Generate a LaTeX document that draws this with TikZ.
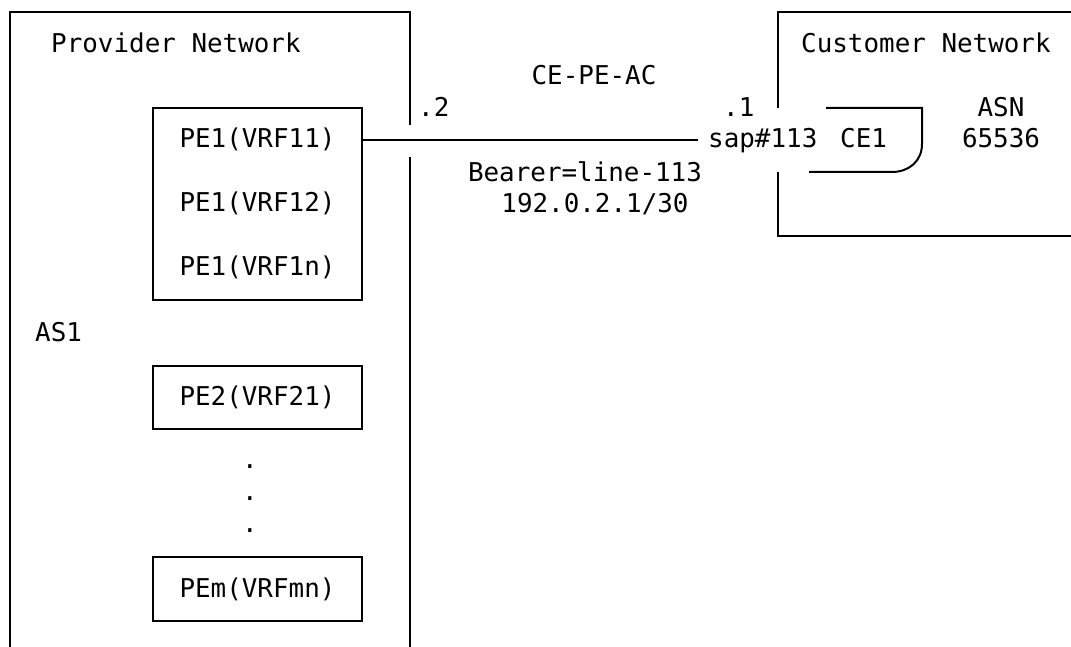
\documentclass[tikz,border=0pt]{standalone}
\usepackage{fontspec}
\setmonofont{DejaVu Sans Mono}
\usetikzlibrary{positioning}
\tikzstyle{every node}=[font=\ttfamily\fontsize{25.9}{31}\selectfont,inner sep=0pt]
\tikzstyle{wire}=[line width=2pt]
\tikzstyle{pebox}=[draw,line width=2pt,minimum width=209pt]

\begin{document}
\begin{tikzpicture}[x=1pt,y=-1pt,node distance=64pt,on grid]
\useasboundingbox (0,0) rectangle (1071,647);
% provider side
\draw[wire] (410,125) -- (410,12) -- (10,12) -- (10,647);
\draw[wire] (410,157) -- (410,647);
\node[anchor=base west] (prov) at (51,53) {Provider Network};
\node[pebox,minimum height=192pt] (pe1) at (257.5,204) {};
\node[anchor=base]   (vrf11) at (257.5,148) {PE1(VRF11)};
\node[below=of vrf11] (vrf12) {PE1(VRF12)};
\node[below=of vrf12] (vrf1n) {PE1(VRF1n)};
\node[anchor=base west] (as1) at (35,341) {AS1};
\node[pebox,minimum height=63pt] (pe2) at (257.5,397) {PE2(VRF21)};
\foreach \y in {468,500,532}
  \node[anchor=base] (dot\y) at (250,\y) {.};
\node[pebox,minimum height=64pt] (pem) at (257.5,589) {PEm(VRFmn)};
% customer side
\draw[wire] (1071,12) -- (778,12) -- (778,108);
\draw[wire] (778,172) -- (778,236) -- (1071,236);
\node[anchor=base west] (cust) at (801,53) {Customer Network};
\draw[wire] (826,108) -- (922,108) -- (922,144)
  .. controls (922,161) and (909,172) .. (892,172) -- (809,172);
\node[anchor=base west] (ce1) at (840,148) {CE1};
\node[anchor=base] (asn) at (1001,117) {ASN};
\node[anchor=base] (asnum) at (1001,148) {65536};
% attachment circuit
\node[anchor=base] (ac) at (594,85) {CE-PE-AC};
\node[anchor=base west] (peip) at (418,117) {.2};
\node[anchor=base west] (ceip) at (723,117) {.1};
\node[anchor=base west,inner xsep=10pt] (sap) at (698,148) {sap\#113};
\node[anchor=base] (bearer) at (585,182) {Bearer=line-113};
\node[anchor=base] (prefix) at (595,213) {192.0.2.1/30};
\draw[wire] (pe1.east |- vrf11) -- (sap.west |- vrf11);
\end{tikzpicture}
\end{document}
